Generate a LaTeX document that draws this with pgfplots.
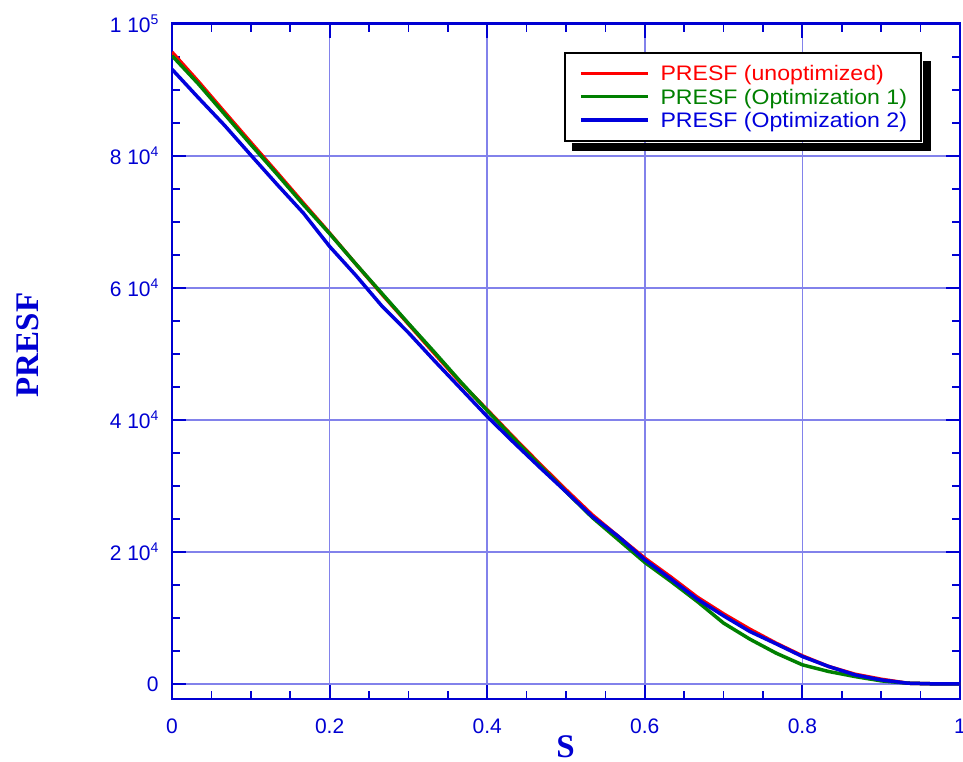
\documentclass[border=0pt]{standalone}
\usepackage{pgfplots}
\pgfplotsset{compat=1.18}
\usepackage{pgfplotstable}
\usepackage{fontspec}
\setmainfont{Liberation Sans}
\newfontfamily\serifb{Liberation Serif}
\definecolor{frameblue}{RGB}{0,0,210}
\definecolor{gridblue}{RGB}{130,130,235}
\definecolor{cred}{RGB}{255,0,0}
\definecolor{cgreen}{RGB}{0,128,0}
\definecolor{cblue}{RGB}{0,0,220}
\newcommand\pw[1]{\raisebox{8bp}{\fontsize{14bp}{14bp}\selectfont #1}}
\pgfplotstableread{
s red green blue
0 95700 95150 93100
0.03333 91260 90900 88800
0.06667 86620 86300 84600
0.1 82020 81700 80100
0.13333 77450 77200 75650
0.16667 72830 72600 71320
0.2 68280 68200 66260
0.23333 63590 63600 61870
0.26667 58990 59100 57190
0.3 54500 54600 53200
0.33333 50000 50200 48900
0.36667 45560 45700 44700
0.4 41520 41400 40500
0.43333 37370 37200 36600
0.46667 33330 33100 32800
0.5 29400 29100 29100
0.53333 25600 25200 25350
0.56667 22300 21800 22300
0.6 19040 18400 18800
0.63333 16160 15500 15860
0.66667 13130 12470 12830
0.7 10600 9200 10300
0.73333 8280 6770 7930
0.76667 6160 4650 6060
0.8 4240 2880 4140
0.83333 2630 1870 2630
0.86667 1460 1110 1360
0.9 700 450 600
0.93333 100 100 100
0.96667 0 0 0
1 0 0 0
}\datatable
\begin{document}
\begin{tikzpicture}
\begin{axis}[
  at={(0,0)}, anchor=south west,
  scale only axis, width=788bp, height=675bp,
  xmin=0, xmax=1, ymin=-2250, ymax=100000,
  scaled x ticks=false, scaled y ticks=false,
  xtick={0,0.2,0.4,0.6,0.8,1},
  xticklabels={0,0.2,0.4,0.6,0.8,1},
  ytick={0,20000,40000,60000,80000,100000},
  yticklabels={0,2 10\pw{4},4 10\pw{4},6 10\pw{4},8 10\pw{4},1 10\pw{5}},
  minor x tick num=3, minor y tick num=3,
  tick pos=both, tick align=inside,
  major tick length=14bp, minor tick length=8bp,
  every major tick/.append style={line width=2bp, color=frameblue},
  every minor tick/.append style={line width=1.6bp, color=frameblue},
  axis line style={line width=2.4bp, color=frameblue},
  grid=major,
  major grid style={line width=1.6bp, color=gridblue},
  ticklabel style={font=\fontsize{21bp}{25bp}\selectfont, text=frameblue},
  yticklabel style={xshift=-10bp},
  xticklabel style={yshift=-17bp},
  xlabel={S},
  ylabel={PRESF},
  xlabel style={font=\serifb\bfseries\fontsize{33bp}{36bp}\selectfont, text=frameblue, at={(axis description cs:0.4994,-0.0716)}, anchor=center},
  ylabel style={font=\serifb\bfseries\fontsize{33bp}{36bp}\selectfont, text=frameblue, at={(axis description cs:-0.1834,0.524)}, anchor=center, rotate=0},
  legend cell align=left,
  legend image code/.code={\draw[#1, line width=3.5bp] (0bp,0bp) -- (67bp,0bp);},
  legend style={name=leg, at={(axis description cs:0.4975,0.9585)}, anchor=north west,
    draw=black, line width=2bp, fill=white,
    font=\fontsize{21bp}{25bp}\selectfont,
    inner xsep=14bp, inner ysep=9bp, column sep=11bp, row sep=0bp,
    nodes={inner sep=0pt, text height=19bp, text depth=4.3bp}},
]
\addplot[cred, line width=3.5bp, line join=round] table[x=s, y=red] {\datatable};
\addlegendentry{\textcolor{cred}{\scalebox{1.1}[1]{PRESF (unoptimized)}}}
\addplot[cgreen, line width=3.5bp, line join=round] table[x=s, y=green] {\datatable};
\addlegendentry{\textcolor{cgreen}{\scalebox{1.1}[1]{PRESF (Optimization 1)}}}
\addplot[cblue, line width=3.5bp, line join=round] table[x=s, y=blue] {\datatable};
\addlegendentry{\textcolor{cblue}{\scalebox{1.1}[1]{PRESF (Optimization 2)}}}
\end{axis}
\fill[black] ([xshift=1bp]leg.north east) ++(0,-9bp) rectangle ([xshift=9bp,yshift=-9bp]leg.south east);
\fill[black] ([xshift=8bp,yshift=-1bp]leg.south west) rectangle ([xshift=9bp,yshift=-9bp]leg.south east);
\pgfresetboundingbox
\useasboundingbox (-172bp,-63.3bp) rectangle (791bp,698.7bp);
\end{tikzpicture}
\end{document}
